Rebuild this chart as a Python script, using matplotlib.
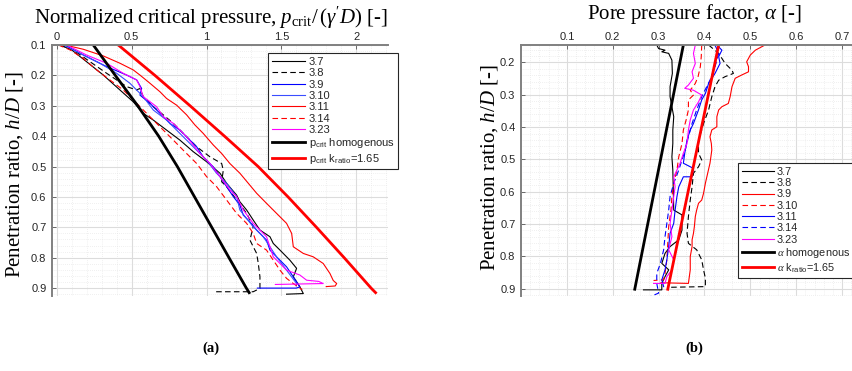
import matplotlib
matplotlib.use('Agg')
import matplotlib.pyplot as plt
from matplotlib.ticker import MultipleLocator, FixedLocator

plt.rcParams['mathtext.fontset'] = 'custom'
plt.rcParams['mathtext.rm'] = 'Liberation Serif'
plt.rcParams['mathtext.it'] = 'Liberation Serif:italic'
plt.rcParams['mathtext.sf'] = 'Liberation Sans'
plt.rcParams['font.family'] = ['Liberation Sans', 'DejaVu Sans']

# ---------------- Panel (a): normalized critical pressure ----------------
a37_x = [0.02, 0.098, 0.198, 0.31, 0.421, 0.51, 0.577, 0.644, 0.733, 0.822, 0.911, 1.0, 1.09, 1.134, 1.201, 1.223,
         1.268, 1.312, 1.357, 1.424, 1.446, 1.491, 1.557, 1.602, 1.58, 1.624, 1.647, 1.535]
a37_y = [0.10, 0.116, 0.155, 0.199, 0.248, 0.287, 0.325, 0.347, 0.38, 0.413, 0.451, 0.484, 0.522, 0.555, 0.594, 0.616,
         0.643, 0.676, 0.709, 0.731, 0.753, 0.775, 0.808, 0.835, 0.863, 0.896, 0.918, 0.92]

a38_x = [0.02, 0.109, 0.221, 0.332, 0.466, 0.533, 0.555, 0.577, 0.644, 0.711, 0.778, 0.867, 0.934, 1.023, 1.101, 1.112,
         1.101, 1.134, 1.201, 1.268, 1.312, 1.29, 1.335, 1.346, 1.357, 1.357, 1.312, 1.045]
a38_y = [0.10, 0.116, 0.155, 0.193, 0.237, 0.248, 0.243, 0.27, 0.303, 0.33, 0.358, 0.402, 0.435, 0.468, 0.49, 0.512,
         0.55, 0.566, 0.61, 0.654, 0.698, 0.742, 0.786, 0.819, 0.863, 0.901, 0.912, 0.912]

a39_x = [0.053, 0.176, 0.332, 0.466, 0.533, 0.566, 0.555, 0.622, 0.689, 0.755, 0.822, 0.889, 0.934, 0.978, 1.045, 1.09,
         1.134, 1.179, 1.223, 1.246, 1.29, 1.335, 1.401, 1.424, 1.468, 1.535, 1.58, 1.624, 1.60, 1.34]
a39_y = [0.10, 0.133, 0.171, 0.199, 0.215, 0.243, 0.265, 0.292, 0.325, 0.358, 0.38, 0.413, 0.435, 0.468, 0.501, 0.533,
         0.566, 0.599, 0.627, 0.66, 0.682, 0.709, 0.742, 0.775, 0.797, 0.83, 0.863, 0.896, 0.90, 0.90]

a310_x = [0.042, 0.154, 0.287, 0.399, 0.488, 0.577, 0.644, 0.733, 0.822, 0.911, 1.0, 1.067, 1.134, 1.201, 1.223, 1.268,
          1.312, 1.379, 1.424, 1.468, 1.535, 1.602, 1.60]
a310_y = [0.10, 0.127, 0.16, 0.193, 0.226, 0.27, 0.314, 0.347, 0.391, 0.435, 0.479, 0.522, 0.555, 0.599, 0.643, 0.671,
          0.698, 0.731, 0.764, 0.797, 0.841, 0.885, 0.893]

a311_x = [0.053, 0.176, 0.31, 0.421, 0.51, 0.555, 0.622, 0.689, 0.733, 0.80, 0.867, 0.922, 0.978, 1.045, 1.101, 1.156,
          1.223, 1.279, 1.335, 1.401, 1.468, 1.535, 1.569, 1.58, 1.647, 1.713, 1.78, 1.825, 1.847, 1.87, 1.86, 1.80]
a311_y = [0.10, 0.114, 0.136, 0.16, 0.182, 0.199, 0.226, 0.254, 0.276, 0.298, 0.33, 0.363, 0.391, 0.429, 0.457, 0.49,
          0.522, 0.555, 0.588, 0.621, 0.654, 0.687, 0.72, 0.764, 0.786, 0.797, 0.819, 0.852, 0.875, 0.885, 0.893, 0.895]

a314_x = [0.009, 0.087, 0.176, 0.265, 0.354, 0.443, 0.533, 0.622, 0.711, 0.778, 0.844, 0.934, 1.0, 1.067, 1.134, 1.201,
          1.268, 1.312, 1.335, 1.401, 1.446, 1.491, 1.535, 1.58, 1.64]
a314_y = [0.10, 0.116, 0.144, 0.182, 0.215, 0.248, 0.292, 0.336, 0.38, 0.413, 0.446, 0.49, 0.533, 0.566, 0.61, 0.654,
          0.687, 0.72, 0.753, 0.775, 0.808, 0.841, 0.868, 0.885, 0.905]

a323_x = [0.065, 0.198, 0.332, 0.443, 0.533, 0.555, 0.577, 0.666, 0.711, 0.778, 0.867, 0.956, 1.023, 1.09, 1.156, 1.201,
          1.246, 1.312, 1.357, 1.401, 1.424, 1.446, 1.491, 1.535, 1.624, 1.669, 1.75, 1.78, 1.46]
a323_y = [0.10, 0.133, 0.16, 0.193, 0.215, 0.237, 0.27, 0.303, 0.336, 0.358, 0.402, 0.457, 0.49, 0.533, 0.577, 0.599,
          0.643, 0.687, 0.709, 0.731, 0.764, 0.797, 0.819, 0.841, 0.857, 0.874, 0.878, 0.885, 0.888]

a_theory_y = [0.1, 0.2, 0.3, 0.4, 0.5, 0.6, 0.7, 0.8, 0.9, 0.915]
a_homog_x = [0.243, 0.39, 0.54, 0.68, 0.805, 0.92, 1.035, 1.15, 1.266, 1.285]
a_kratio_x = [0.41, 0.655, 0.89, 1.12, 1.345, 1.545, 1.735, 1.92, 2.10, 2.13]

# ---------------- Panel (b): pore pressure factor ----------------
b37_x = [0.296, 0.30, 0.314, 0.307, 0.322, 0.329, 0.33, 0.325, 0.325, 0.329, 0.333, 0.331, 0.331, 0.329, 0.331, 0.333,
         0.351, 0.351, 0.344, 0.325, 0.314, 0.307, 0.322, 0.314, 0.307, 0.307, 0.267]
b37_y = [0.146, 0.157, 0.162, 0.167, 0.172, 0.193, 0.234, 0.275, 0.306, 0.337, 0.368, 0.409, 0.451, 0.492, 0.533, 0.657,
         0.672, 0.719, 0.749, 0.77, 0.791, 0.822, 0.842, 0.863, 0.884, 0.904, 0.904]

b38_x = [0.409, 0.431, 0.445, 0.46, 0.463, 0.445, 0.431, 0.423, 0.416, 0.409, 0.398, 0.394, 0.387, 0.387, 0.394, 0.387,
         0.376, 0.373, 0.369, 0.365, 0.362, 0.365, 0.383, 0.394, 0.398, 0.402, 0.402, 0.325]
b38_y = [0.146, 0.172, 0.203, 0.224, 0.234, 0.244, 0.255, 0.275, 0.306, 0.347, 0.389, 0.409, 0.44, 0.481, 0.502, 0.523,
         0.543, 0.585, 0.626, 0.677, 0.729, 0.76, 0.78, 0.811, 0.842, 0.868, 0.894, 0.896]

b39_x = [0.532, 0.511, 0.50, 0.492, 0.496, 0.496, 0.481, 0.467, 0.46, 0.456, 0.452, 0.438, 0.431, 0.427, 0.427, 0.416,
         0.412, 0.415, 0.416, 0.414, 0.412, 0.407, 0.402, 0.398, 0.394, 0.387, 0.383, 0.38, 0.378, 0.376, 0.373, 0.373,
         0.369, 0.369, 0.365, 0.305]
b39_y = [0.146, 0.162, 0.177, 0.198, 0.213, 0.229, 0.239, 0.249, 0.275, 0.306, 0.327, 0.337, 0.347, 0.368, 0.399, 0.409,
         0.43, 0.451, 0.471, 0.492, 0.512, 0.543, 0.574, 0.605, 0.626, 0.636, 0.657, 0.677, 0.708, 0.729, 0.749, 0.77,
         0.801, 0.842, 0.884, 0.882]

b310_x = [0.394, 0.393, 0.391, 0.386, 0.38, 0.369, 0.376, 0.365, 0.365, 0.36, 0.354, 0.351, 0.344, 0.34, 0.333, 0.329,
          0.327, 0.322, 0.32, 0.318, 0.314, 0.311, 0.289]
b310_y = [0.146, 0.182, 0.213, 0.244, 0.265, 0.286, 0.301, 0.316, 0.347, 0.378, 0.409, 0.451, 0.492, 0.533, 0.574, 0.615,
          0.657, 0.708, 0.76, 0.811, 0.853, 0.873, 0.875]

b311_x = [0.427, 0.438, 0.431, 0.434, 0.423, 0.409, 0.402, 0.394, 0.387, 0.376, 0.369, 0.362, 0.357, 0.354, 0.376, 0.373,
          0.354, 0.344, 0.34, 0.336, 0.333, 0.325, 0.322, 0.318, 0.314, 0.307, 0.311]
b311_y = [0.146, 0.162, 0.182, 0.203, 0.234, 0.265, 0.296, 0.316, 0.347, 0.389, 0.409, 0.44, 0.481, 0.512, 0.528, 0.554,
          0.554, 0.585, 0.615, 0.657, 0.698, 0.729, 0.77, 0.811, 0.842, 0.873, 0.894]

b314_x = [0.423, 0.431, 0.423, 0.412, 0.394, 0.383, 0.373, 0.365, 0.358, 0.344, 0.333, 0.325, 0.322, 0.318, 0.314, 0.311,
          0.304, 0.296, 0.296, 0.30, 0.282]
b314_y = [0.146, 0.172, 0.213, 0.255, 0.306, 0.347, 0.389, 0.43, 0.471, 0.533, 0.574, 0.615, 0.657, 0.698, 0.739, 0.78,
          0.822, 0.853, 0.884, 0.914, 0.925]

b323_x = [0.38, 0.376, 0.38, 0.373, 0.376, 0.365, 0.357, 0.376, 0.394, 0.387, 0.376, 0.369, 0.365, 0.362, 0.354, 0.347,
          0.333, 0.336, 0.333, 0.329, 0.325, 0.329, 0.322, 0.333, 0.329, 0.318, 0.314, 0.289]
b323_y = [0.146, 0.172, 0.203, 0.229, 0.249, 0.27, 0.28, 0.286, 0.301, 0.322, 0.347, 0.378, 0.409, 0.451, 0.481, 0.512,
          0.554, 0.585, 0.615, 0.657, 0.698, 0.739, 0.78, 0.811, 0.842, 0.863, 0.884, 0.884]

b_theory_y = [0.146, 0.902]
b_homog_x = [0.354, 0.248]
b_kratio_x = [0.431, 0.320]

labels_a = ['3.7', '3.8', '3.9', '3.10', '3.11', '3.14', '3.23',
            r'p$_{\mathsf{crit}}$ homogenous', r'p$_{\mathsf{crit}}$ k$_{\mathsf{ratio}}$=1.65']
labels_b = ['3.7', '3.8', '3.9', '3.10', '3.11', '3.14', '3.23',
            r'$\alpha$ homogenous', r'$\alpha$ k$_{\mathsf{ratio}}$=1.65']

W, H = 853, 371
fig = plt.figure(figsize=(W / 100, H / 100), dpi=100)

TXT = '#262626'
THIN = 0.8
THICK = 2.0
DASH = (5, 3)


def px_axes(l, t, r, b):
    return [l / W, 1 - b / H, (r - l) / W, (b - t) / H]


def style_axes(ax):
    ax.invert_yaxis()
    ax.xaxis.tick_top()
    for s in ['right', 'bottom']:
        ax.spines[s].set_visible(False)
    for s in ['top', 'left']:
        ax.spines[s].set_color('#808080')
        ax.spines[s].set_linewidth(1.4)
    ax.tick_params(which='major', direction='in', length=3, width=0.6, color='#555555',
                   labelsize=8, labelcolor=TXT)
    ax.tick_params(axis='x', pad=2.5)
    ax.tick_params(axis='y', pad=4)
    ax.tick_params(which='minor', length=0)
    ax.grid(True, which='major', color='#dcdcdc', lw=0.8, ls='-')
    ax.grid(True, which='minor', color='#e2e2e2', lw=0.5, ls=(0, (1, 2)))
    ax.set_axisbelow(True)


# ---- axes (a)
axa = fig.add_axes(px_axes(52, 45, 388, 296))
axa.plot(a37_x, a37_y, color='black', lw=THIN)
axa.plot(a38_x, a38_y, color='black', lw=THIN, dashes=DASH)
axa.plot(a39_x, a39_y, color='#0000ff', lw=THIN)
axa.plot(a310_x, a310_y, color='#3a4dff', lw=THIN)
axa.plot(a311_x, a311_y, color='#ff0000', lw=THIN)
axa.plot(a314_x, a314_y, color='#ff0000', lw=THIN, dashes=DASH)
axa.plot(a323_x, a323_y, color='#ff00ff', lw=THIN)
axa.plot(a_homog_x, a_theory_y, color='black', lw=THICK)
axa.plot(a_kratio_x, a_theory_y, color='#ff0000', lw=THICK)
axa.set_xlim(-0.033, 2.213)
axa.set_ylim(0.1, 0.926)
axa.xaxis.set_major_locator(FixedLocator([0, 0.5, 1, 1.5, 2]))
axa.set_xticklabels(['0', '0.5', '1', '1.5', '2'])
axa.xaxis.set_minor_locator(MultipleLocator(0.1))
axa.yaxis.set_major_locator(FixedLocator([0.1, 0.2, 0.3, 0.4, 0.5, 0.6, 0.7, 0.8, 0.9]))
axa.yaxis.set_minor_locator(MultipleLocator(0.02))
style_axes(axa)

# ---- axes (b)
axb = fig.add_axes(px_axes(521, 45, 865, 296))
axb.plot(b37_x, b37_y, color='black', lw=THIN)
axb.plot(b38_x, b38_y, color='black', lw=THIN, dashes=DASH)
axb.plot(b39_x, b39_y, color='#ff0000', lw=THIN)
axb.plot(b310_x, b310_y, color='#ff0000', lw=THIN, dashes=DASH)
axb.plot(b311_x, b311_y, color='#0000ff', lw=THIN)
axb.plot(b314_x, b314_y, color='#0000ff', lw=THIN, dashes=DASH)
axb.plot(b323_x, b323_y, color='#ff00ff', lw=THIN)
axb.plot(b_homog_x, b_theory_y, color='black', lw=THICK)
axb.plot(b_kratio_x, b_theory_y, color='#ff0000', lw=THICK)
axb.set_xlim(0.0, 0.75)
axb.set_ylim(0.146, 0.923)
axb.xaxis.set_major_locator(FixedLocator([0.1, 0.2, 0.3, 0.4, 0.5, 0.6, 0.7]))
axb.xaxis.set_minor_locator(MultipleLocator(0.02))
axb.yaxis.set_major_locator(FixedLocator([0.2, 0.3, 0.4, 0.5, 0.6, 0.7, 0.8, 0.9]))
axb.yaxis.set_minor_locator(MultipleLocator(0.02))
style_axes(axb)

# legends
leg_kw = dict(handlelength=3.0, labelspacing=0.12,
              borderpad=0.35, borderaxespad=0, fancybox=False, framealpha=1, loc='upper left')
la = axa.legend(labels_a, bbox_to_anchor=(0.643, 0.968), fontsize=8, handletextpad=0.3, **leg_kw)
lb = axb.legend(labels_b, bbox_to_anchor=(0.631, 0.53), fontsize=7.8, handletextpad=0.25, **leg_kw)
for lg in (la, lb):
    lg.get_frame().set_edgecolor('#262626')
    lg.get_frame().set_linewidth(0.8)
    for t in lg.get_texts():
        t.set_color(TXT)

# axis titles / labels
serif = ['Liberation Serif', 'DejaVu Serif']
fig.text(211 / W, 1 - 24 / H, r"Normalized critical pressure, $p_{\rm crit}/\,(\gamma' D)$ [-]",
         ha='center', va='baseline', fontsize=15, family=serif)
fig.text(694 / W, 1 - 19 / H, r"Pore pressure factor, $\alpha$ [-]",
         ha='center', va='baseline', fontsize=15, family=serif)
fig.text(15 / W, 1 - 175 / H, r"Penetration ratio, $h/D$ [-]", rotation=90,
         ha='center', va='center', fontsize=15, family=serif)
fig.text(490 / W, 1 - 168 / H, r"Penetration ratio, $h/D$ [-]", rotation=90,
         ha='center', va='center', fontsize=15, family=serif)

fig.text(211 / W, 1 - 348 / H, '(a)', ha='center', va='center', fontsize=10.5, fontweight='bold', family=serif)
fig.text(694 / W, 1 - 348 / H, '(b)', ha='center', va='center', fontsize=10.5, fontweight='bold', family=serif)

fig.savefig('out.png', dpi=100)
